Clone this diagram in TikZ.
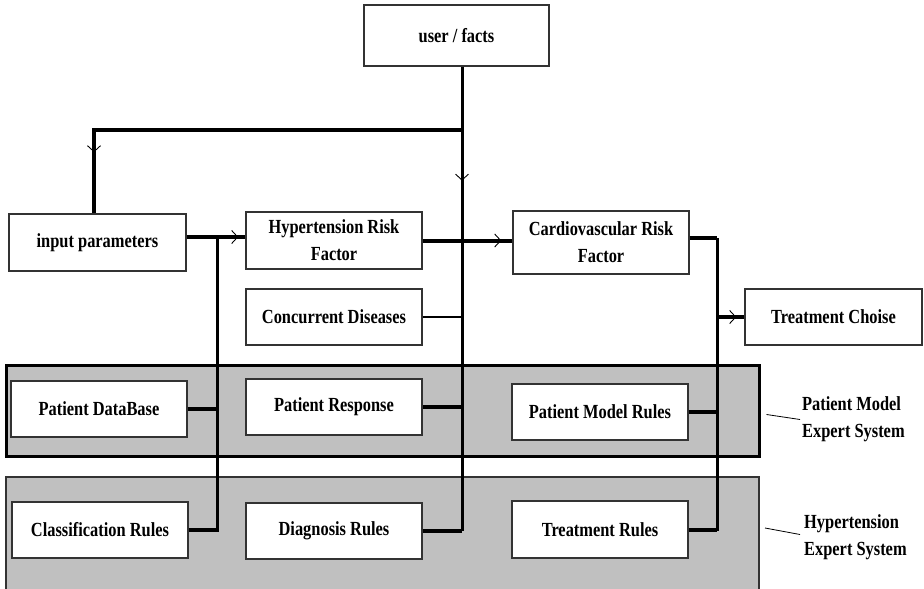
\documentclass[tikz,border=0pt]{standalone}
\usepackage{fontspec}
\setmainfont{Liberation Serif}[FakeStretch=0.82]
\usetikzlibrary{arrows.meta,decorations.markings,calc}
\definecolor{panelgray}{HTML}{C0C0C0}
\definecolor{boxline}{HTML}{333333}
\tikzset{
  chev/.tip={Straight Barb[length=6pt,width=13pt]},
  midarrow/.style={postaction={decorate,decoration={markings,
      mark=at position #1 with {\pgfsetlinewidth{0.9pt}\arrow{chev}}}}},
  box/.style={draw=boxline,line width=1.4pt,fill=white,inner sep=0pt,align=center,
      font=\bfseries\fontsize{20}{27}\selectfont},
  lab/.style={inner sep=0pt,align=left,font=\bfseries\fontsize{20}{27}\selectfont},
  conn/.style={line width=4pt},
  connm/.style={line width=3pt},
  connt/.style={line width=2pt},
  pmpanel/.style={draw=black,line width=3pt,fill=panelgray,inner sep=0pt},
  hppanel/.style={draw=boxline,line width=1.2pt,fill=panelgray,inner sep=0pt},
  leader/.style={line width=0.8pt}
}
\begin{document}
\begin{tikzpicture}[x=1pt,y=-1pt]
\useasboundingbox (0,0) rectangle (924,589);
\fill[white] (0,0) rectangle (924,589);
% panels
\node[hppanel,minimum width=753pt,minimum height=130pt] (hpp) at (382.5,542) {};
\node[pmpanel,minimum width=753pt,minimum height=91pt] (pmp) at (382.5,410.5) {};
% helper coordinates
\coordinate (trunk) at (462,0);
\coordinate (lt) at (217,0);
\coordinate (rt) at (717,0);
\coordinate (br) at (462,130);
% boxes
\node[box,minimum width=185pt,minimum height=61pt] (uf) at (456.5,35.5) {user / facts};
\node[box,minimum width=177pt,minimum height=57pt] (ip) at (97.5,242.5) {input parameters};
\node[box,minimum width=176pt,minimum height=57pt] (hrf) at (334,240.5) {Hypertension Risk\\Factor};
\node[box,minimum width=176pt,minimum height=63pt] (crf) at (601,242.5) {Cardiovascular Risk\\Factor};
\node[box,minimum width=176pt,minimum height=56pt] (cd) at (334,317) {Concurrent Diseases};
\node[box,minimum width=177pt,minimum height=56pt] (tc) at (833.5,317) {Treatment Choise};
\node[box,minimum width=176pt,minimum height=56pt] (pdb) at (99,409) {Patient DataBase};
\node[box,minimum width=176pt,minimum height=56pt] (pr) at (334,407) {Patient Response};
\node[box,minimum width=176pt,minimum height=56pt] (pmr) at (600,412) {Patient Model Rules};
\node[box,minimum width=176pt,minimum height=56pt] (cr) at (100,530) {Classification Rules};
\node[box,minimum width=176pt,minimum height=56pt] (dr) at (334,531) {Diagnosis Rules};
\node[box,minimum width=176pt,minimum height=57pt] (tr) at (600,529.5) {Treatment Rules};
% labels
\node[lab,anchor=west] (pml) at (802,419.5) {Patient Model\\Expert System};
\node[lab,anchor=west] (hpl) at (804,537.5) {Hypertension\\Expert System};
% connectors
\draw[connm,midarrow=114pt] ([xshift=5.5pt]uf.south) -- (dr.east -| trunk);
\draw[conn,midarrow=-61pt] (br) -| ([xshift=-3.5pt]ip.north);
\draw[conn,midarrow=-7pt] ([yshift=5.5pt]ip.east) -- ([yshift=5.5pt]ip.east -| hrf.west);
\draw[connm] ([yshift=5.5pt]ip.east -| lt) |- (cr.east);
\draw[conn] (pdb.east) -- (pdb.east -| lt);
\draw[conn] (cr.east) -- (cr.east -| lt);
\draw[conn,midarrow=-11pt] (hrf.east) -- (hrf.east -| crf.west);
\draw[connt] (cd.east) -- (cd.east -| trunk);
\draw[conn] (pr.east) -- (pr.east -| trunk);
\draw[conn] (dr.east) -- (dr.east -| trunk);
\draw[conn] ([yshift=4.5pt]crf.east) -- ([yshift=4.5pt]crf.east -| rt);
\draw[connm] ([yshift=4.5pt]crf.east -| rt) |- (tr.east);
\draw[conn,midarrow=-8pt] (tc.west -| rt) -- (tc.west);
\draw[conn] (pmr.east) -- (pmr.east -| rt);
\draw[conn] (tr.east) -- (tr.east -| rt);
% leaders
\coordinate (pml0) at ($(pmp.east)+(6,4)$);
\coordinate (hpl0) at (765,528);
\draw[leader] (pml0) -- ([xshift=-2pt]pml.west);
\draw[leader] (hpl0) -- ([xshift=-4pt,yshift=3pt]hpl.west);
\end{tikzpicture}
\end{document}
